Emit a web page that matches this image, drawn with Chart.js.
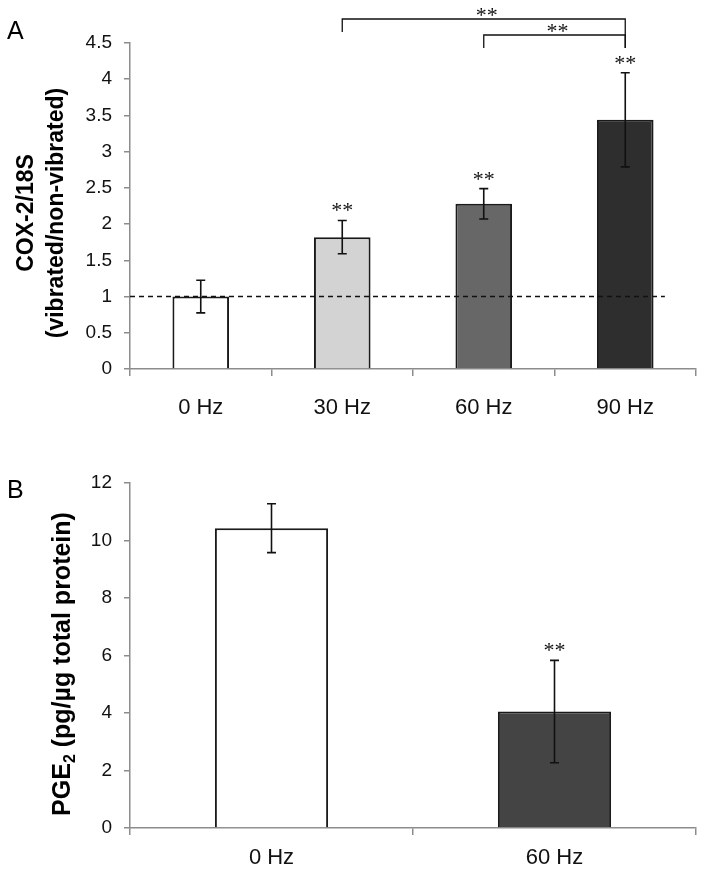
<!DOCTYPE html>
<html>
<head>
<meta charset="utf-8">
<script src="https://cdn.jsdelivr.net/npm/chart.js@4.4.1/dist/chart.umd.min.js"></script>
<style>
  html, body { margin: 0; padding: 0; background: #fff; }
  #wrap { position: relative; width: 705px; height: 878px; }
  .panel { position: absolute; left: 0; width: 705px; }
  #panelA { top: 0; height: 430px; }
  #panelB { top: 440px; height: 438px; }
</style>
</head>
<body>
<div id="wrap">
  <div class="panel" id="panelA"><canvas id="chartA"></canvas></div>
  <div class="panel" id="panelB"><canvas id="chartB"></canvas></div>
</div>
<script>
// Panel A - COX-2/18S, vibrated vs non-vibrated
const labelsA = ["0 Hz", "30 Hz", "60 Hz", "90 Hz"];
const meansA = [1.0, 1.82, 2.28, 3.44];
const errA = [0.225, 0.23, 0.21, 0.65];
const colorsA = ["#ffffff", "#d3d3d3", "#676767", "#2e2e2e"];
const starsA = [false, true, true, true];
const bracketsA = [[1, 3], [2, 3]]; // compared groups, outer first
const baselineA = 1;
const yMinA = 0, yMaxA = 4.5, yStepA = 0.5;
const titleA = [[{ text: "COX-2/18S" }], [{ text: "(vibrated/non-vibrated)" }]];

// Panel B - PGE2
const labelsB = ["0 Hz", "60 Hz"];
const meansB = [10.43, 4.05];
const errB = [0.85, 1.78];
const colorsB = ["#ffffff", "#444444"];
const starsB = [false, true];
const yMinB = 0, yMaxB = 12, yStepB = 2;
const titleB = [[{ text: "PGE" }, { text: "2", sub: true }, { text: " (pg/µg total protein)" }]];

const sans = "'Liberation Sans', Arial, sans-serif";
const starFont = "22px 'Liberation Serif', 'Times New Roman', serif";
const axisGray = "#8c8c8c";

function drawStars(ctx, cx, bottomY) {
  ctx.font = starFont;
  ctx.textAlign = "center";
  ctx.textBaseline = "alphabetic";
  const m = ctx.measureText("**");
  ctx.fillText("**", cx, bottomY - m.actualBoundingBoxDescent);
}

function drawTitle(ctx, lines, cx, cy, size, gap) {
  ctx.save();
  ctx.translate(cx, cy);
  ctx.rotate(-Math.PI / 2);
  ctx.textBaseline = "middle";
  ctx.textAlign = "left";
  const main = "bold " + size + "px " + sans;
  const small = "bold " + Math.round(size * 0.62) + "px " + sans;
  lines.forEach((parts, i) => {
    let w = 0;
    parts.forEach((p) => {
      ctx.font = p.sub ? small : main;
      w += ctx.measureText(p.text).width;
    });
    let x = -w / 2;
    const y = (i - (lines.length - 1) / 2) * gap;
    parts.forEach((p) => {
      ctx.font = p.sub ? small : main;
      ctx.fillText(p.text, x, p.sub ? y + size * 0.3 : y);
      x += ctx.measureText(p.text).width;
    });
  });
  ctx.restore();
}

// error bars, stars, reference line, brackets, titles
const annotate = {
  id: "annotate",
  afterDatasetsDraw(chart, args, o) {
    const ctx = chart.ctx;
    const xs = chart.scales.x, ys = chart.scales.y;
    const area = chart.chartArea;
    const means = chart.data.datasets[0].data;
    const catW = (area.right - area.left) / means.length;
    ctx.save();
    ctx.strokeStyle = "#111";
    ctx.fillStyle = "#111";

    if (o.baseline != null) {
      const yb = ys.getPixelForValue(o.baseline);
      ctx.lineWidth = 1.5;
      ctx.setLineDash([5, 4]);
      ctx.beginPath();
      ctx.moveTo(area.left, yb);
      ctx.lineTo(xs.getPixelForValue(means.length - 1) + catW * 0.28, yb);
      ctx.stroke();
      ctx.setLineDash([]);
    }

    means.forEach((v, i) => {
      const px = xs.getPixelForValue(i);
      const top = ys.getPixelForValue(v + o.err[i]);
      const bot = ys.getPixelForValue(v - o.err[i]);
      ctx.lineWidth = 1.6;
      ctx.beginPath();
      ctx.moveTo(px, top); ctx.lineTo(px, bot);
      ctx.moveTo(px - 4.5, top); ctx.lineTo(px + 4.5, top);
      ctx.moveTo(px - 4.5, bot); ctx.lineTo(px + 4.5, bot);
      ctx.stroke();
      if (o.stars[i]) drawStars(ctx, px, top - 9);
    });

    (o.brackets || []).forEach((b, k) => {
      const x1 = xs.getPixelForValue(b[0]);
      const x2 = xs.getPixelForValue(b[1]);
      const yl = area.top - 24 + k * 16;
      ctx.lineWidth = 1.3;
      ctx.beginPath();
      ctx.moveTo(x1, yl + 13); ctx.lineTo(x1, yl);
      ctx.lineTo(x2, yl); ctx.lineTo(x2, area.top + 5);
      ctx.stroke();
      drawStars(ctx, (x1 + x2) / 2 + 3, yl - 3);
    });

    ctx.fillStyle = "#000";
    ctx.font = "25px " + sans;
    ctx.textAlign = "left";
    ctx.textBaseline = "alphabetic";
    ctx.fillText(o.letter, 7, o.letterY);
    drawTitle(ctx, o.title, o.titleX, o.titleY, o.titleSize, 30);
    ctx.restore();
  }
};

function makeChart(id, labels, means, colors, yMin, yMax, yStep, axisH, labelPad, extra) {
  return new Chart(document.getElementById(id), {
    type: "bar",
    data: {
      labels: labels,
      datasets: [{
        data: means,
        backgroundColor: colors,
        borderColor: "#1a1a1a",
        borderWidth: 2,
        barPercentage: 0.4,
        categoryPercentage: 1,
      }],
    },
    options: {
      responsive: true,
      maintainAspectRatio: false,
      animation: false,
      layout: { padding: { top: 43, right: 9, left: 0, bottom: 0 } },
      plugins: {
        legend: { display: false },
        tooltip: { enabled: false },
        annotate: extra,
      },
      scales: {
        x: {
          grid: { offset: true, drawOnChartArea: false, tickLength: 7, color: axisGray, lineWidth: 1.5 },
          border: { color: axisGray, width: 1.5 },
          ticks: { font: { family: sans, size: 22 }, color: "#111", padding: labelPad },
          afterFit: (s) => { s.height = axisH; },
        },
        y: {
          min: yMin,
          max: yMax,
          ticks: {
            stepSize: yStep,
            font: { family: sans, size: 19 },
            color: "#111",
            padding: 12,
            callback: (v) => String(Math.round(v * 10) / 10),
          },
          grid: { drawOnChartArea: false, tickLength: 6, color: axisGray, lineWidth: 1.5 },
          border: { color: axisGray, width: 1.5 },
          afterFit: (s) => { s.width = 130; },
        },
      },
    },
    plugins: [annotate],
  });
}

makeChart("chartA", labelsA, meansA, colorsA, yMinA, yMaxA, yStepA, 61, 19, {
  err: errA, stars: starsA, brackets: bracketsA, baseline: baselineA,
  letter: "A", letterY: 39, title: titleA, titleX: 42, titleY: 213, titleSize: 23,
});

makeChart("chartB", labelsB, meansB, colorsB, yMinB, yMaxB, yStepB, 50, 10, {
  err: errB, stars: starsB, brackets: [], baseline: null,
  letter: "B", letterY: 58, title: titleB, titleX: 63, titleY: 224, titleSize: 25,
});
</script>
</body>
</html>
